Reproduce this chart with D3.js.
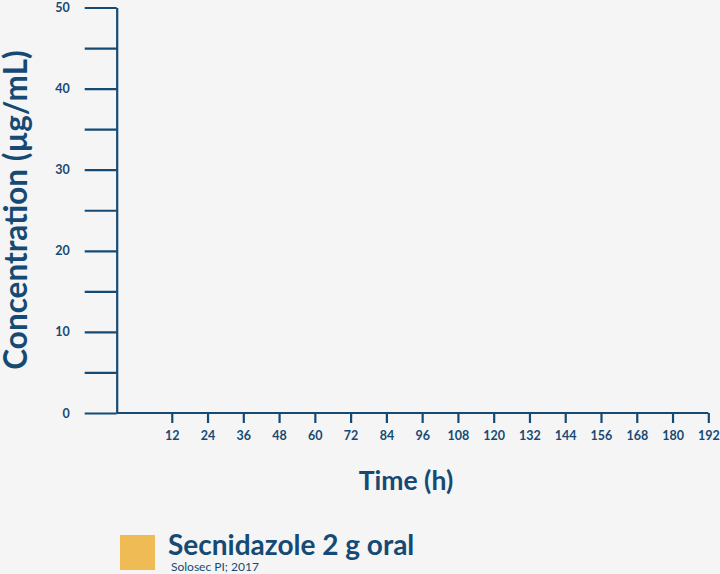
<!DOCTYPE html>
<html>
<head>
<meta charset="utf-8">
<script src="https://cdn.jsdelivr.net/npm/d3@7"></script>
<style>
  html, body { margin: 0; padding: 0; background: #f5f5f5; }
  svg { display: block; font-family: Lato, "Open Sans", sans-serif; }
</style>
</head>
<body>
<script>
// chart data
var yTicks = [0, 5, 10, 15, 20, 25, 30, 35, 40, 45, 50];
var xTicks = [12, 24, 36, 48, 60, 72, 84, 96, 108, 120, 132, 144, 156, 168, 180, 192];
var seriesNames = ['Secnidazole 2 g oral'];
var seriesSources = ['Solosec PI; 2017'];
var seriesColors = ['#efbb55'];

var w = 720, h = 574;
var ink = '#154a74';

var svg = d3.select('body').append('svg').attr('width', w).attr('height', h);

var x = d3.scaleLinear().domain([0, 192]).range([136, 708.3]);
var y = d3.scaleLinear().domain([0, 50]).range([413, 7.5]);
var axisX = 116.7;

// y axis
var gy = svg.append('g')
  .attr('transform', 'translate(' + axisX + ',0)')
  .call(d3.axisLeft(y)
    .tickValues(yTicks)
    .tickSize(32)
    .tickSizeOuter(0)
    .tickPadding(15)
    .tickFormat(function(d){ return d % 10 === 0 ? d : ''; }));

// x axis
var gx = svg.append('g')
  .attr('transform', 'translate(0,' + y(0) + ')')
  .call(d3.axisBottom(x)
    .tickValues(xTicks)
    .tickSize(10)
    .tickSizeOuter(0)
    .tickPadding(8));
gx.select('.domain').remove();
gx.append('line')
  .attr('x1', axisX).attr('x2', x(192))
  .attr('y1', 0).attr('y2', 0);

svg.selectAll('.domain, .tick line, g > line')
  .attr('stroke', ink)
  .attr('stroke-width', 2.2);
svg.selectAll('.tick text')
  .attr('fill', ink)
  .style('font-family', 'Lato, sans-serif')
  .style('font-size', '12.5px')
  .style('font-weight', 'bold');

// axis titles
svg.append('text')
  .attr('transform', 'translate(27,210) rotate(-90)')
  .attr('text-anchor', 'middle')
  .attr('fill', ink)
  .style('font-size', '31.5px')
  .style('font-weight', 'bold')
  .text('Concentration (µg/mL)');

svg.append('text')
  .attr('x', 406).attr('y', 490)
  .attr('text-anchor', 'middle')
  .attr('fill', ink)
  .style('font-size', '26.5px')
  .style('font-weight', 'bold')
  .text('Time (h)');

// legend
var legend = svg.selectAll('.legend')
  .data(seriesNames)
  .enter().append('g')
  .attr('class', 'legend')
  .attr('transform', function(d, i){ return 'translate(120,' + (535 + i * 40) + ')'; });

legend.append('rect')
  .attr('width', 35).attr('height', 35)
  .attr('fill', function(d, i){ return seriesColors[i]; });

legend.append('text')
  .attr('x', 48).attr('y', 20)
  .attr('fill', ink)
  .style('font-size', '28px')
  .style('font-weight', 'bold')
  .text(function(d){ return d; });

legend.append('text')
  .attr('x', 51).attr('y', 35.5)
  .attr('fill', ink)
  .style('font-size', '12px')
  .text(function(d, i){ return seriesSources[i]; });
</script>
</body>
</html>
